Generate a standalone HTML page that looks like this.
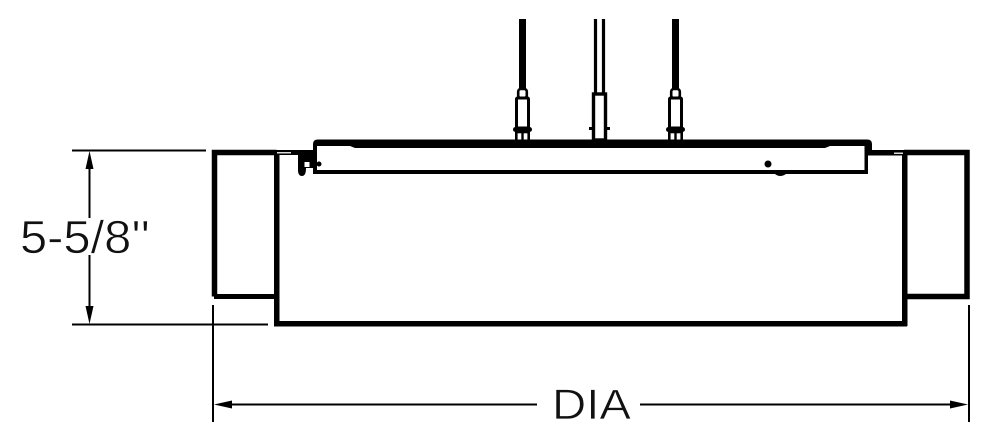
<!DOCTYPE html>
<html>
<head>
<meta charset="utf-8">
<style>
html,body{margin:0;padding:0;background:#fff;width:990px;height:442px;overflow:hidden}
svg{display:block}
</style>
</head>
<body>
<svg width="990" height="442" viewBox="0 0 990 442" xmlns="http://www.w3.org/2000/svg">
<rect width="990" height="442" fill="#fff"/>
<defs>
<g id="hanger" fill="none" stroke="#000">
  <rect x="-3.5" y="19" width="7" height="70" fill="#000" stroke="none"/>
  <rect x="-4.300" y="89" width="8.600" height="9" rx="2.500" stroke-width="2.600" fill="#fff"/>
  <rect x="-6" y="98" width="12" height="30" stroke-width="3" rx="1"/>
  <rect x="-9.500" y="127" width="19" height="5" rx="2.500" fill="#000" stroke="none"/>
  <rect x="-6.200" y="132" width="12.400" height="9" stroke-width="2.600" fill="#fff"/>
  <line x1="0" y1="132" x2="0" y2="141" stroke-width="2.400"/>
</g>
</defs>

<!-- hangers -->
<use href="#hanger" x="522.5"/>
<use href="#hanger" x="675.5"/>
<g fill="none" stroke="#000">
  <line x1="595.5" y1="19" x2="595.5" y2="94" stroke-width="3.200"/>
  <line x1="603.5" y1="19" x2="603.5" y2="94" stroke-width="3.200"/>
  <rect x="593.5" y="94" width="12" height="46" stroke-width="3.400"/>
  <rect x="589" y="127" width="4" height="3" fill="#000" stroke="none"/>
  <rect x="606" y="127" width="4" height="3" fill="#000" stroke="none"/>
</g>

<!-- top plate -->
<path d="M313 174 V144 Q313 139.500 318 139.500 H867 Q872 139.500 872 144 V152 H868 V174 H864.500 V146 H830 L825 148 H355 L350 146 H317 V174 Z" fill="#000"/>
<rect x="313" y="170" width="555" height="4" fill="#000"/>
<circle cx="768" cy="164" r="3.500" fill="#000"/>
<path d="M775 174 H786 Q780 178 775 174 Z" fill="#000"/>

<!-- left box and main body -->
<path d="M214.500 296.500 V152.500 H276.500" fill="none" stroke="#000" stroke-width="5.500"/>
<rect x="214" y="294" width="62" height="5" fill="#000"/>
<rect x="274" y="150" width="5.500" height="176" fill="#000"/>
<rect x="274" y="321" width="633" height="5.500" fill="#000"/>
<rect x="902" y="150" width="5.500" height="176" fill="#000"/>

<!-- right box -->
<path d="M904 152.500 H967 V296.500 H904" fill="none" stroke="#000" stroke-width="5.500"/>

<!-- left joint -->
<rect x="276" y="150" width="38" height="5" fill="#000"/>
<rect x="277" y="152" width="14" height="1.500" fill="#ddd"/>
<path d="M298 150 H314 V168 H306 Q306 176 302 176 Q298 176 298 170 Z" fill="#000"/>
<rect x="304.500" y="162" width="5" height="5" fill="#fff"/>
<circle cx="319" cy="164" r="2.500" fill="#000"/>

<!-- right joint -->
<rect x="866" y="150" width="38" height="5.500" fill="#000"/>
<rect x="894" y="152.500" width="9" height="1.500" fill="#ddd"/>

<!-- height dimension -->
<line x1="72" y1="150.500" x2="206" y2="150.500" stroke="#000" stroke-width="2"/>
<line x1="72" y1="324.500" x2="268" y2="324.500" stroke="#000" stroke-width="2"/>
<line x1="89.500" y1="165" x2="89.500" y2="218" stroke="#000" stroke-width="2"/>
<line x1="89.500" y1="255" x2="89.500" y2="310" stroke="#000" stroke-width="2"/>
<path d="M89.500 151 L85.500 169 H93.500 Z" fill="#000"/>
<path d="M89.500 324 L85.500 306 H93.500 Z" fill="#000"/>
<text x="20" y="253" font-family="'Liberation Sans',sans-serif" font-size="46" fill="#111" stroke="#fff" stroke-width="0.700" textLength="130" lengthAdjust="spacingAndGlyphs">5-5/8''</text>

<!-- width dimension -->
<line x1="213" y1="305" x2="213" y2="422" stroke="#000" stroke-width="2"/>
<line x1="969" y1="305" x2="969" y2="422" stroke="#000" stroke-width="2"/>
<line x1="225" y1="404.500" x2="537" y2="404.500" stroke="#000" stroke-width="2"/>
<line x1="640" y1="404.500" x2="958" y2="404.500" stroke="#000" stroke-width="2"/>
<path d="M214 404.500 L232 400.500 V408.500 Z" fill="#000"/>
<path d="M968 404.500 L950 400.500 V408.500 Z" fill="#000"/>
<text x="552" y="419" font-family="'Liberation Sans',sans-serif" font-size="43" fill="#111" stroke="#fff" stroke-width="0.700" textLength="79" lengthAdjust="spacingAndGlyphs">DIA</text>
</svg>
</body>
</html>
